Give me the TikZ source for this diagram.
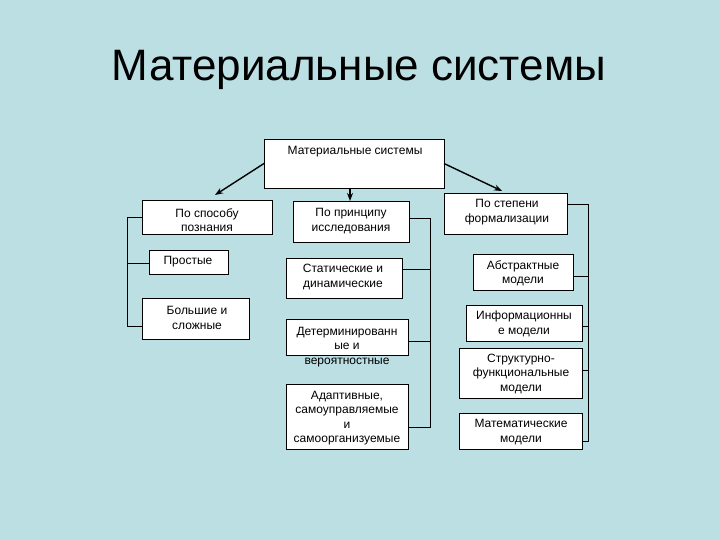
\documentclass[tikz,border=0pt]{standalone}
\usepackage{fontspec}
\setmainfont{Liberation Sans}
\usetikzlibrary{arrows.meta}
\definecolor{bg}{RGB}{187,223,227}
\tikzset{
  box/.style={draw=black, line width=0.9pt, fill=white, inner sep=0pt, outer sep=0pt},
  txt/.style={font=\fontsize{12}{14.4}\selectfont, align=center, inner sep=0pt},
  conn/.style={draw=black, line width=0.9pt},
  arr/.style={draw=black, line width=1.4pt, -{Stealth[length=8pt,width=6pt]}},
}
\newcommand{\bx}[5]{% name, x1, y1, x2, y2
  \node[box, minimum width={#4-#2}, minimum height={#5-#3}] (#1) at ({(#2+#4)/2},{(#3+#5)/2}) {};}
\begin{document}
\begin{tikzpicture}[x=1pt,y=-1pt]
\fill[bg] (0,0) rectangle (720,540);
\useasboundingbox (0,0) rectangle (720,540);
\node[inner sep=0pt, font=\fontsize{44}{50}\selectfont] (title) at (359,70) {Материальные системы};

% boxes
\bx{top}{264}{139}{444}{188}
\bx{spos}{142}{200}{272}{234}
\bx{prin}{293}{201}{409}{242}
\bx{stepb}{444}{193}{567}{234}
\bx{prost}{149}{250}{228}{274}
\bx{bolsh}{142}{298}{249}{339}
\bx{stat}{286}{258}{402}{298}
\bx{det}{286}{319}{408}{355}
\bx{adapt}{286}{384}{408}{449}
\bx{abstr}{473}{254}{573}{290}
\bx{inform}{466}{305}{582}{341}
\bx{struct}{459}{348}{582}{398}
\bx{matem}{459}{413}{582}{449}

% texts
\node[txt] (topt) at (355,152) {Материальные системы};
\node[txt] (spost) at (207,220) {По способу\\познания};
\node[txt] (print) at (351,221) {По принципу\\исследования};
\node[txt] (stept) at (507,212) {По степени\\формализации};
\node[txt] (prostt) at (188,262) {Простые};
\node[txt] (bolsht) at (197,318) {Большие и\\сложные};
\node[txt] (statt) at (343,277) {Статические и\\динамические};
\node[txt] (dett) at (347,347) {Детерминированн\\ые и\\вероятностные};
\node[txt] (adaptt) at (347,418) {Адаптивные,\\самоуправляемые\\и\\самоорганизуемые};
\node[txt] (abstrt) at (523,273) {Абстрактные\\модели};
\node[txt] (informt) at (524,324) {Информационны\\е модели};
\node[txt] (structt) at (521,374) {Структурно-\\функциональные\\модели};
\node[txt] (matemt) at (521,432) {Математические\\модели};

% arrows
\coordinate (la) at (215,195);
\coordinate (ra) at (502,191);
\draw[arr] (top.west) -- (la);
\draw[arr] (top.south -| 350,0) -- (prin.north -| 350,0);
\draw[arr] (top.east) -- (ra);

% left group
\coordinate (l1) at (127,217);
\coordinate (l2) at (127,263);
\coordinate (l3) at (127,326);
\draw[conn] (spos.west) -- (l1) -- (l3) -- (bolsh.west |- l3);
\draw[conn] (l2) -- (prost.west |- l2);

% middle group
\coordinate (m1) at (430,218);
\coordinate (m2) at (430,269);
\coordinate (m3) at (430,341);
\coordinate (m4) at (430,427);
\draw[conn] (prin.east |- m1) -- (m1) -- (m4) -- (adapt.east |- m4);
\draw[conn] (m2) -- (stat.east |- m2);
\draw[conn] (m3) -- (det.east |- m3);

% right group
\coordinate (r1) at (588,204);
\coordinate (r2) at (588,276);
\coordinate (r3) at (588,326);
\coordinate (r4) at (588,370);
\coordinate (r5) at (588,441);
\draw[conn] (stepb.east |- r1) -- (r1) -- (r5) -- (matem.east |- r5);
\draw[conn] (r2) -- (abstr.east |- r2);
\draw[conn] (r3) -- (inform.east |- r3);
\draw[conn] (r4) -- (struct.east |- r4);
\end{tikzpicture}
\end{document}
